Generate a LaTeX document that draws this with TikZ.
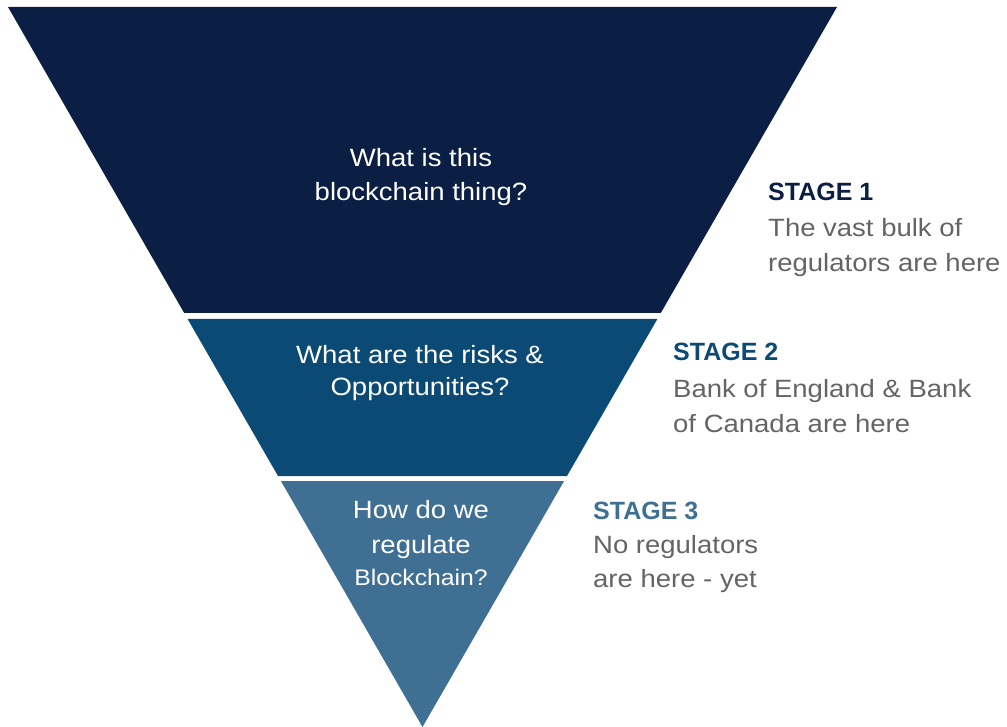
\documentclass[tikz,border=0pt]{standalone}
\usepackage{fontspec}
\setmainfont{Liberation Sans}[FakeStretch=1.1]
\newfontfamily\stagefont{Liberation Sans}
\definecolor{bandA}{HTML}{0B1F44}
\definecolor{bandB}{HTML}{0B4A75}
\definecolor{bandC}{HTML}{3F7094}
\definecolor{note}{HTML}{646464}
\begin{document}
\begin{tikzpicture}[x=1pt,y=-1pt,
  bandtext/.style={text=white, anchor=base, inner sep=0pt,
    font=\fontsize{25}{30}\selectfont},
  stagehead/.style={anchor=base west, inner sep=0pt,
    font=\stagefont\bfseries\fontsize{25}{30}\selectfont},
  stagenote/.style={anchor=base west, inner sep=0pt, text=note,
    font=\fontsize{25}{30}\selectfont}]
\useasboundingbox (0,0) rectangle (1007,727);
% funnel outline points
\coordinate (tl) at (8,7);
\coordinate (tr) at (837,7);
\coordinate (apex) at (422.5,727);
% stage 1 band
\fill[bandA] (tl) -- (tr) -- (660.8,313) -- (184.2,313) -- cycle;
% stage 2 band
\fill[bandB] (187.6,319) -- (657.4,319) -- (567.0,476) -- (278.0,476) -- cycle;
% stage 3 band
\fill[bandC] (280.9,481) -- (564.1,481) -- (apex) -- cycle;
% questions inside the funnel, one node per line
\node[bandtext] (q1a) at (421,167) {What is this};
\node[bandtext] (q1b) at (421,201) {blockchain thing?};
\node[bandtext] (q2a) at (420,363) {What are the risks \&};
\node[bandtext] (q2b) at (420,395.5) {Opportunities?};
\node[bandtext] (q3a) at (421,518) {How do we};
\node[bandtext] (q3b) at (421,553) {regulate};
\node[bandtext, font=\fontsize{22.5}{27}\selectfont] (q3c) at (421,585) {Blockchain?};
% stage labels
\node[stagehead, text=bandA] (s1) at (768,201) {STAGE 1};
\node[stagenote] (n1a) at (768,236.5) {The vast bulk of};
\node[stagenote] (n1b) at (768,272) {regulators are here};
\node[stagehead, text=bandB] (s2) at (673,361) {STAGE 2};
\node[stagenote] (n2a) at (673,397) {Bank of England \& Bank};
\node[stagenote] (n2b) at (673,432) {of Canada are here};
\node[stagehead, text=bandC] (s3) at (593,519) {STAGE 3};
\node[stagenote] (n3a) at (593,553) {No regulators};
\node[stagenote] (n3b) at (593,587) {are here - yet};
\end{tikzpicture}
\end{document}
